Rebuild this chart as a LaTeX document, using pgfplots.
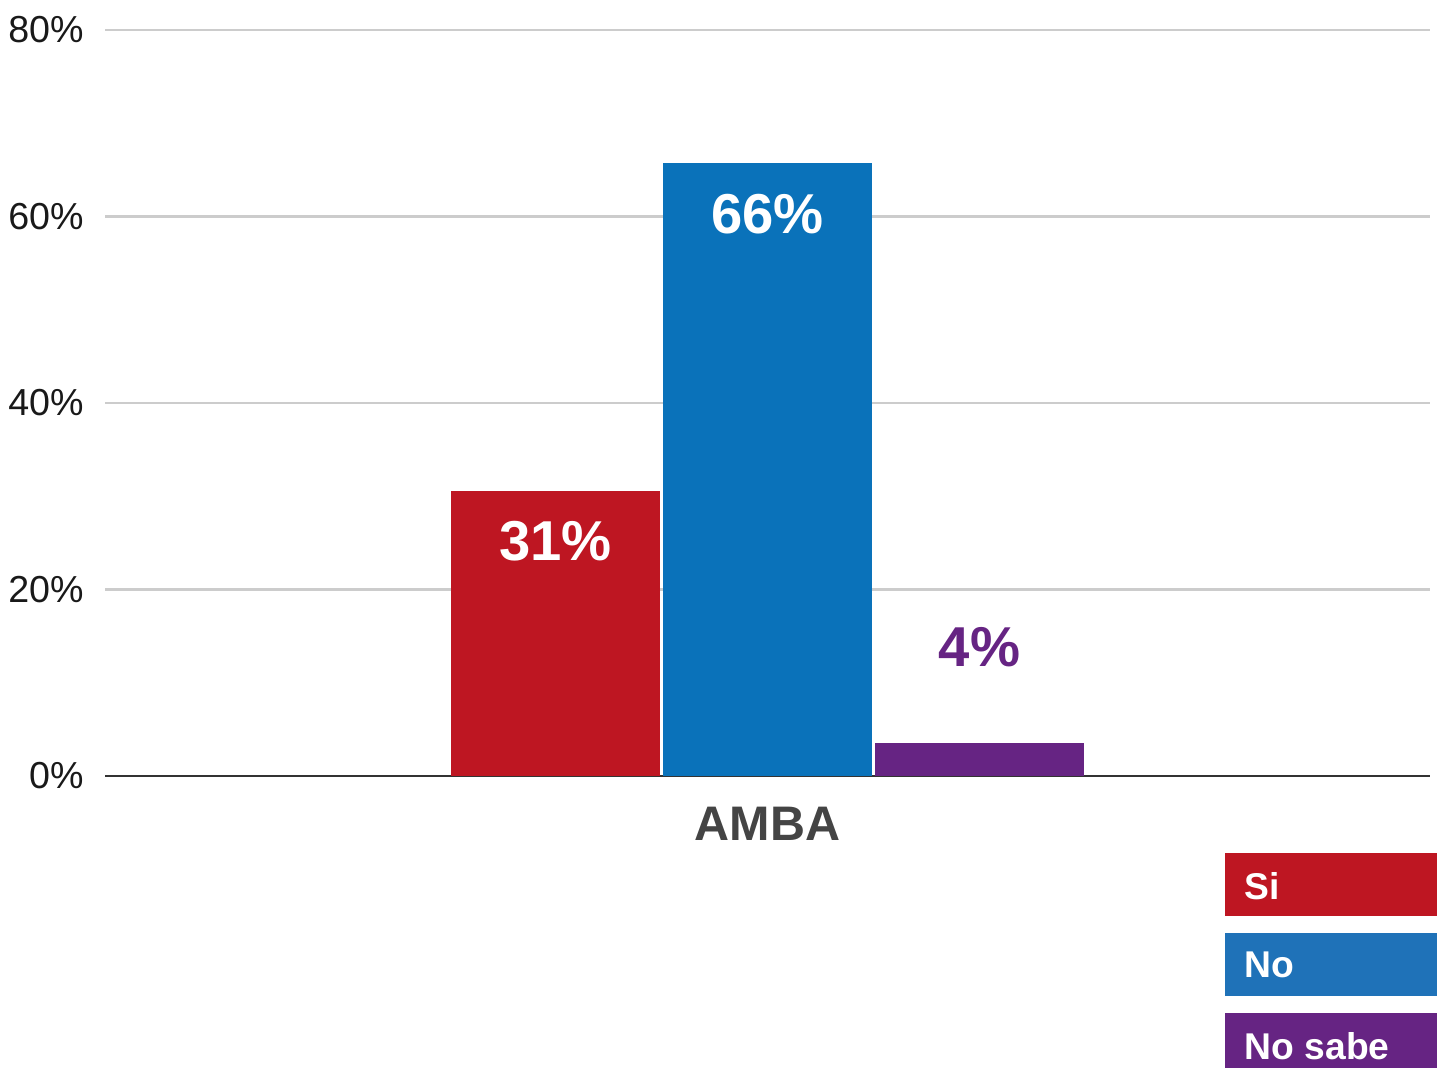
\documentclass[border=0pt]{standalone}
\usepackage{pgfplots}
\pgfplotsset{compat=1.18}
\usepackage{fontspec}
\setmainfont{Liberation Sans}

\definecolor{siRed}{HTML}{BE1622}
\definecolor{noBlue}{HTML}{0A72BA}
\definecolor{legBlue}{HTML}{1F72B8}
\definecolor{nsPurple}{HTML}{662483}
\definecolor{gridGray}{HTML}{CCCCCC}
\definecolor{axisDark}{HTML}{333333}
\definecolor{lblGray}{HTML}{444444}

\begin{document}
\begin{tikzpicture}
% page = 1437 x 1068 px at 0.01 cm per px, origin at the plot's bottom-left
\useasboundingbox (-1.05,-2.92) rectangle (13.32,7.76);
\begin{axis}[
    scale only axis,
    width=13.25cm, height=7.46cm,
    at={(0,0)}, anchor=south west,
    ybar=0.03cm, bar width=2.09cm,
    xmin=-1, xmax=1,
    ymin=0, ymax=80,
    enlargelimits=false,
    clip=false,
    axis line style={draw=none},
    major tick length=0pt,
    ytick={0,20,40,60,80},
    yticklabel={\pgfmathprintnumber{\tick}\%},
    yticklabel style={font=\fontsize{10.7}{13}\selectfont, text=black!90, xshift=-0.09cm},
    ymajorgrids,
    grid style={draw=gridGray, line width=0.6pt},
    extra y ticks={0},
    extra y tick labels={},
    extra y tick style={grid style={draw=axisDark, line width=0.7pt}},
    xtick={0},
    xticklabels={\textbf{AMBA}},
    xticklabel style={font=\fontsize{13.8}{16}\selectfont, text=lblGray, yshift=-0.19cm},
    /pgf/number format/assume math mode=true,
    nodes near coords={\pgfmathprintnumber[fixed,precision=0]{\pgfplotspointmeta}\%},
    nodes near coords style={font=\fontsize{16}{19}\bfseries\selectfont},
  ]

  \addplot[fill=siRed, draw=none,
    every node near coord/.append style={text=white, anchor=center, yshift=-0.51cm}]
    coordinates {(0,30.6)};
  \addplot[fill=noBlue, draw=none,
    every node near coord/.append style={text=white, anchor=center, yshift=-0.51cm}]
    coordinates {(0,65.7)};
  \addplot[fill=nsPurple, draw=none,
    every node near coord/.append style={text=nsPurple, anchor=center, yshift=0.96cm}]
    coordinates {(0,3.5)};

\end{axis}

% legend: coloured boxes with white names
\fill[siRed] (11.20,-0.77) rectangle (13.32,-1.40);
\fill[legBlue] (11.20,-1.57) rectangle (13.32,-2.20);
\fill[nsPurple] (11.20,-2.37) rectangle (13.32,-3.00);
\node[anchor=base west, inner sep=0pt, text=white, font=\fontsize{10.6}{13}\bfseries\selectfont] at (11.39,-1.24) {Si};
\node[anchor=base west, inner sep=0pt, text=white, font=\fontsize{10.6}{13}\bfseries\selectfont] at (11.39,-2.02) {No};
\node[anchor=base west, inner sep=0pt, text=white, font=\fontsize{10.6}{13}\bfseries\selectfont] at (11.39,-2.84) {No sabe};
\end{tikzpicture}
\end{document}
